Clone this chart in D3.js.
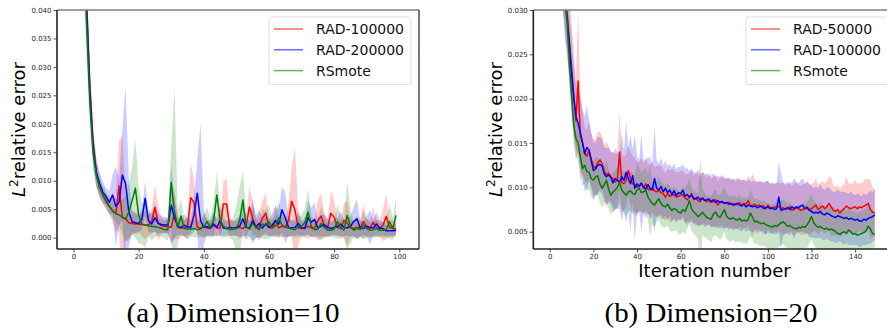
<!DOCTYPE html>
<html>
<head>
<meta charset="utf-8">
<script src="https://cdn.jsdelivr.net/npm/d3@7"></script>
<style>
body { margin: 0; background: #fff; }
svg { display: block; }
</style>
</head>
<body>
<script>
// all error values are stored in units of 1e-4
var UNIT = 1e-4

// ---- (a) Dimension=10 ----
var labelsA = ['RAD-100000', 'RAD-200000', 'RSmote']
var xTicksA = [0, 20, 40, 60, 80, 100]
var yTicksA = [0, 0.005, 0.010, 0.015, 0.020, 0.025, 0.030, 0.035, 0.040]

var redA = [
    3000,1500,900,600,420,270,170,115,88,75,
    65,55,47,42,91,35,33,26,25,24,
    24,23,22,22,28,53,25,21,20,19,
    18,42,18,17,17,18,70,62,19,16,
    21,17,16,22,17,17,59,59,18,17,
    16,18,16,20,54,34,17,19,34,43,
    18,16,30,17,20,18,30,64,48,17,
    16,18,20,17,16,30,38,20,17,43,
    36,18,16,30,25,17,16,18,17,28,
    18,16,27,17,16,22,37,18,16,15]
var blueA = [
    3000,1500,900,600,410,260,160,115,95,80,
    72,62,75,55,62,110,95,45,28,26,
    25,32,69,30,24,35,25,23,22,22,
    57,35,20,18,22,19,18,40,78,30,
    18,19,17,24,18,30,17,16,18,16,
    18,20,33,18,17,30,19,25,17,24,
    18,22,30,24,49,35,18,17,18,25,
    17,16,35,27,32,17,20,23,18,16,
    18,19,24,18,17,20,28,33,17,16,
    20,18,17,24,17,16,12,12,12,13]
var greenA = [
    3000,1500,900,550,380,240,150,110,89,75,
    63,55,48,42,40,36,33,45,65,87,
    40,24,22,21,20,19,18,16,14,14,
    97,45,18,38,16,15,15,16,14,15,
    20,28,18,30,75,30,20,16,14,15,
    16,30,66,20,15,25,18,14,24,22,
    28,18,20,35,22,19,17,15,14,19,
    20,26,45,20,14,15,25,18,13,13,
    15,28,18,13,39,20,13,16,14,22,
    16,13,14,16,13,13,14,28,16,39]

var redStdA = [
    800,400,200,100,60,40,30,22,18,15,
    14,15,20,30,80,145,40,25,20,18,
    15,20,25,20,22,40,30,15,12,14,
    25,45,20,15,14,20,60,40,15,12,
    20,15,12,20,15,14,40,45,15,14,
    12,20,15,22,35,30,14,25,30,35,
    15,14,28,15,20,15,30,60,110,30,
    12,18,22,15,14,35,40,20,15,40,
    30,15,14,30,40,15,14,20,15,30,
    15,14,25,15,14,28,40,15,14,13]
var blueStdA = [
    800,400,200,100,60,40,30,25,20,18,
    15,20,35,70,40,80,170,60,20,18,
    15,18,30,20,15,25,18,15,14,14,
    70,35,15,14,20,15,14,30,60,170,
    30,15,14,20,15,25,14,12,15,12,
    15,18,30,15,14,40,20,25,14,20,
    15,20,25,25,40,45,15,14,15,20,
    14,12,30,25,30,14,18,20,15,12,
    15,15,22,15,14,18,25,35,14,12,
    18,30,14,20,14,12,10,10,10,10]
var greenStdA = [
    800,400,200,100,60,40,30,22,18,15,
    14,13,14,15,20,30,40,50,60,87,
    50,35,40,20,25,18,15,14,15,20,
    60,220,30,30,15,18,14,15,14,15,
    20,25,18,30,40,30,20,15,14,20,
    40,60,50,25,14,30,18,14,25,25,
    30,15,20,30,20,18,15,14,14,18,
    20,25,40,20,14,15,30,18,13,13,
    15,30,20,13,60,30,13,18,14,25,
    16,13,14,16,13,13,14,30,20,30]

// ---- (b) Dimension=20 ----
var labelsB = ['RAD-50000', 'RAD-100000', 'RSmote']
var xTicksB = [0, 20, 40, 60, 80, 100, 120, 140]
var yTicksB = [0.005, 0.010, 0.015, 0.020, 0.025, 0.030]

var redB = [
    3000,1600,1000,700,520,420,360,320,295,265,
    235,205,175,220,158,150,138,135,142,132,
    124,122,128,131,127,118,114,116,112,110,
    106,108,140,106,104,108,119,110,104,103,
    100,101,104,99,104,98,97,100,96,95,
    97,94,93,89,93,90,91,92,89,90,
    91,92,88,86,89,93,86,88,85,84,
    88,86,84,85,83,84,86,80,83,84,
    82,82,83,81,82,80,81,83,80,82,
    81,85,79,80,81,79,80,78,79,76,
    80,77,76,78,77,79,76,77,75,76,
    78,74,75,77,76,74,75,76,78,75,
    76,78,80,75,77,79,76,78,82,78,
    74,73,75,71,74,76,79,77,76,77,
    78,76,78,77,79,80,82,75,72,71]
var blueB = [
    3000,1600,1000,700,520,420,350,310,290,260,
    228,200,180,172,162,151,138,145,142,130,
    119,121,125,126,124,115,112,114,111,105,
    110,108,106,112,108,117,110,104,113,99,
    104,101,105,100,98,103,99,97,110,99,
    97,101,95,99,94,97,92,96,91,94,
    93,97,90,92,89,91,88,87,89,86,
    88,85,86,87,84,86,83,85,83,84,
    82,83,81,82,80,81,82,80,79,81,
    78,80,79,78,79,77,78,79,76,77,
    78,76,77,75,76,89,74,75,76,77,
    75,78,76,78,77,79,80,76,77,74,
    73,71,72,71,73,70,69,71,70,68,
    67,66,68,67,66,65,66,64,65,64,
    63,64,62,62,64,63,65,66,67,69]
var greenB = [
    3000,1500,900,600,450,380,340,310,285,240,
    205,170,155,150,135,121,125,118,117,110,
    108,112,113,104,99,103,108,98,91,95,
    97,100,106,97,94,91,95,96,93,92,
    97,99,94,95,97,89,85,82,80,84,
    87,82,79,78,81,77,74,76,75,72,
    71,75,73,78,85,76,72,70,67,69,
    72,69,66,65,64,70,72,68,66,70,
    75,68,65,64,66,64,63,65,62,63,
    62,64,71,66,61,62,60,59,60,58,
    57,56,55,57,56,58,60,61,59,56,
    57,55,54,53,55,54,56,55,58,62,
    67,60,57,55,56,54,53,54,52,53,
    52,50,48,47,49,50,48,52,50,47,
    48,46,47,48,49,51,56,53,48,47]

var redStdB = [
    600,400,200,120,80,60,50,45,45,45,
    50,50,45,80,50,35,30,30,32,30,
    30,32,35,32,30,28,38,30,28,30,
    32,30,45,34,30,30,28,30,32,30,
    30,28,30,28,30,28,29,28,27,29,
    28,30,28,27,28,29,30,28,28,27,
    28,27,28,29,27,28,27,28,30,27,
    30,28,27,28,27,28,29,27,28,27,
    28,27,28,27,28,27,28,27,28,27,
    27,28,30,36,28,27,28,27,28,30,
    28,27,28,27,28,27,28,29,27,28,
    28,27,30,28,27,28,29,28,30,28,
    28,27,30,28,27,28,29,28,30,34,
    28,27,28,27,28,27,33,28,27,28,
    30,28,27,28,29,30,27,33,28,27]
var blueStdB = [
    600,400,200,120,80,60,50,45,42,40,
    40,38,36,35,40,38,42,48,35,32,
    32,30,33,30,32,30,32,31,30,33,
    34,32,30,50,33,58,35,55,30,60,
    32,30,55,30,33,31,35,30,60,32,
    30,32,30,31,30,29,30,31,30,29,
    30,29,31,30,29,30,29,30,31,29,
    29,30,29,28,29,30,29,28,29,30,
    29,28,29,28,29,28,29,28,29,28,
    28,29,28,29,28,29,28,29,28,30,
    29,28,29,28,29,40,42,30,28,29,
    29,28,34,29,28,29,30,28,29,30,
    29,28,29,28,30,29,28,29,30,29,
    28,29,30,28,29,30,28,29,30,29,
    28,29,30,28,29,28,29,30,28,29]
var greenStdB = [
    500,300,150,100,70,50,40,30,28,25,
    22,20,20,20,20,20,21,21,20,21,
    22,21,22,21,22,22,23,22,22,22,
    22,23,24,22,23,24,23,22,23,22,
    30,24,23,24,25,26,40,24,25,23,
    24,25,24,23,24,25,24,25,24,25,
    24,25,26,25,26,25,24,25,26,65,
    26,25,24,25,26,25,26,24,25,26,
    25,26,25,26,25,26,25,26,25,26,
    26,25,26,25,26,25,26,25,26,25,
    26,25,26,25,26,25,26,25,26,25,
    26,25,26,25,26,25,26,25,26,25,
    26,25,26,25,26,25,26,25,26,25,
    26,25,26,25,26,25,26,25,26,25,
    26,25,26,25,26,25,26,25,26,25]

var colors = ['#ff0000', '#0000ff', '#008000']

var W = 887, H = 331
var d = d3.select('body').append('svg')
    .attr('width', W)
    .attr('height', H)
    .style('font-family', 'DejaVu Sans')

panel({
    id: 'a',
    left: 57, right: 419, top: 10, bottom: 249,
    xDomain: [-5.05, 106.05], yDomain: [-0.002, 0.040],
    xTicks: xTicksA, yTicks: yTicksA,
    means: [redA, blueA, greenA], stds: [redStdA, blueStdA, greenStdA],
    labels: labelsA,
    legend: { x: 269, y: 17 },
    ylabelX: 25,
    caption: '(a) Dimension=10', captionX: 233
})

panel({
    id: 'b',
    left: 533.3, right: 895.6, top: 10, bottom: 249,
    xDomain: [-7.55, 158.55], yDomain: [0.00305, 0.030],
    xTicks: xTicksB, yTicks: yTicksB,
    means: [redB, blueB, greenB], stds: [redStdB, blueStdB, greenStdB],
    labels: labelsB,
    legend: { x: 746, y: 17 },
    ylabelX: 502,
    caption: '(b) Dimension=20', captionX: 711
})

function panel(p) {
    var x = d3.scaleLinear().domain(p.xDomain).range([p.left, p.right])
    var y = d3.scaleLinear().domain(p.yDomain).range([p.bottom, p.top])

    d.append('clipPath').attr('id', 'clip-' + p.id)
        .append('rect')
        .attr('x', p.left).attr('y', p.top)
        .attr('width', p.right - p.left).attr('height', p.bottom - p.top)

    var g = d.append('g').attr('clip-path', 'url(#clip-' + p.id + ')')

    var area = d3.area()
        .x(function (v, i) { return x(i) })
        .y0(function (v) { return y(v[0]) })
        .y1(function (v) { return y(v[1]) })

    var line = d3.line()
        .x(function (v, i) { return x(i) })
        .y(function (v) { return y(v) })

    // shaded bands: mean +- std
    p.means.forEach(function (m, k) {
        var band = m.map(function (v, i) {
            return [(v - p.stds[k][i]) * UNIT, (v + p.stds[k][i]) * UNIT]
        })
        g.append('path')
            .attr('d', area(band))
            .attr('fill', colors[k])
            .attr('fill-opacity', 0.2)
            .attr('stroke', 'none')
    })

    p.means.forEach(function (m, k) {
        g.append('path')
            .attr('d', line(m.map(function (v) { return v * UNIT })))
            .attr('fill', 'none')
            .attr('stroke', colors[k])
            .attr('stroke-width', 1.5)
            .attr('stroke-linejoin', 'round')
    })

    // axes
    var xa = d.append('g').attr('transform', `translate(0,${p.bottom})`)
        .call(d3.axisBottom(x).tickValues(p.xTicks).tickFormat(d3.format('d')).tickSize(3.5).tickPadding(2))
    var ya = d.append('g').attr('transform', `translate(${p.left},0)`)
        .call(d3.axisLeft(y).tickValues(p.yTicks).tickFormat(d3.format('.3f')).tickSize(3.5).tickPadding(2))
    ;[xa, ya].forEach(function (a) {
        a.select('.domain').remove()
        a.selectAll('text').attr('font-size', 7).attr('font-family', 'DejaVu Sans').attr('fill', '#262626')
        a.selectAll('line').attr('stroke', '#262626').attr('stroke-width', 0.8)
    })

    // spines
    d.append('line').attr('x1', p.left).attr('x2', p.right).attr('y1', p.top).attr('y2', p.top)
        .attr('stroke', '#7f7f7f').attr('stroke-width', 1.6)
    d.append('line').attr('x1', p.left).attr('x2', p.right).attr('y1', p.bottom).attr('y2', p.bottom)
        .attr('stroke', '#222').attr('stroke-width', 1.6)
    d.append('line').attr('x1', p.left).attr('x2', p.left).attr('y1', p.top).attr('y2', p.bottom)
        .attr('stroke', '#222').attr('stroke-width', 1.6)
    d.append('line').attr('x1', p.right).attr('x2', p.right).attr('y1', p.top).attr('y2', p.bottom)
        .attr('stroke', '#222').attr('stroke-width', 1.2)

    // axis labels
    d.append('text')
        .attr('x', (p.left + p.right) / 2).attr('y', 277)
        .attr('text-anchor', 'middle')
        .attr('font-size', 18)
        .text('Iteration number')

    var yl = d.append('text')
        .attr('transform', `translate(${p.ylabelX},${(p.top + p.bottom) / 2}) rotate(-90)`)
        .attr('text-anchor', 'middle')
        .attr('font-size', 18)
    yl.append('tspan').attr('font-style', 'italic').text('L')
    yl.append('tspan').attr('font-size', 12).attr('dy', -7).text('2')
    yl.append('tspan').attr('dy', 7).text('relative error')

    // legend
    var lg = d.append('g').attr('transform', `translate(${p.legend.x},${p.legend.y})`)
    lg.append('rect')
        .attr('width', 142).attr('height', 67.5)
        .attr('rx', 2.5)
        .attr('fill', '#fff').attr('fill-opacity', 0.8)
        .attr('stroke', '#d6d6d6').attr('stroke-width', 0.8)
    p.labels.forEach(function (t, k) {
        var yy = 12 + k * 20.8
        lg.append('line')
            .attr('x1', 5).attr('x2', 34).attr('y1', yy).attr('y2', yy)
            .attr('stroke', colors[k]).attr('stroke-opacity', 0.6).attr('stroke-width', 1.5)
        lg.append('text')
            .attr('x', 47).attr('y', yy + 5)
            .attr('font-size', 14)
            .attr('fill', '#111')
            .text(t)
    })

    // caption (Computer Modern is wider than Liberation Serif, so stretch to the measured width)
    d.append('text')
        .attr('x', p.captionX - 106.5).attr('y', 322)
        .attr('font-family', 'Liberation Serif')
        .attr('font-size', 28)
        .attr('textLength', 213)
        .attr('lengthAdjust', 'spacingAndGlyphs')
        .text(p.caption)
}
</script>
</body>
</html>
